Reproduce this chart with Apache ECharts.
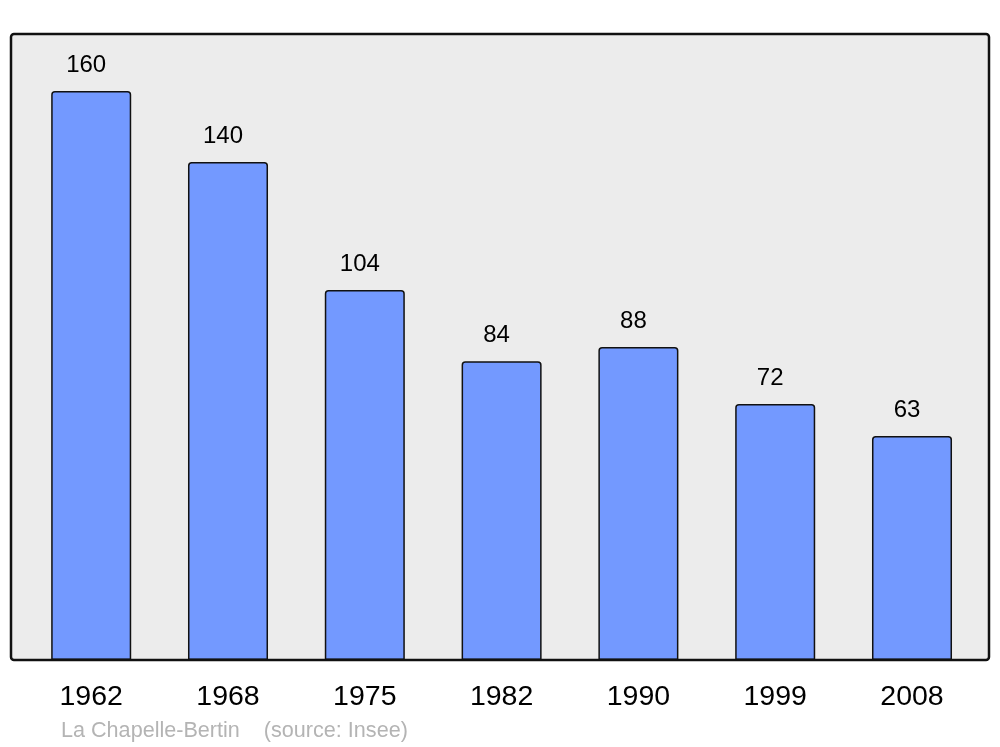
<!DOCTYPE html>
<html>
<head>
<meta charset="utf-8">
<script src="https://cdn.jsdelivr.net/npm/echarts@6/dist/echarts.min.js"></script>
<style>
html,body{margin:0;padding:0;background:#fff;}
#chart{width:1000px;height:747px;}
</style>
</head>
<body>
<div id="chart"></div>
<script>
const years = ['1962', '1968', '1975', '1982', '1990', '1999', '2008'];
const population = [160, 140, 104, 84, 88, 72, 63];
const sourceText = 'La Chapelle-Bertin    (source: Insee)';

const chart = echarts.init(document.getElementById('chart'), null, {renderer: 'canvas'});
const FONT = '"Liberation Sans", Arial, sans-serif';

chart.setOption({
  animation: false,
  backgroundColor: '#ffffff',
  title: {
    text: sourceText,
    left: 61,
    top: 720,
    padding: 0,
    textStyle: {fontFamily: FONT, fontSize: 21.6, fontWeight: 'normal', color: '#b4b4b4', lineHeight: 22}
  },
  graphic: [
    {type: 'rect', z: -10, silent: true,
     shape: {x: 11, y: 34, width: 978, height: 626, r: 3},
     style: {fill: '#ececec', stroke: null}},
    {type: 'rect', z: 100, silent: true,
     shape: {x: 11, y: 34, width: 978, height: 626, r: 3},
     style: {fill: null, stroke: '#111111', lineWidth: 2.5}}
  ],
  grid: {left: 22.8, right: 19.6, top: 34, bottom: 87, containLabel: false},
  xAxis: {
    type: 'category',
    data: years,
    boundaryGap: true,
    axisLine: {show: false},
    axisTick: {show: false},
    axisLabel: {fontFamily: FONT, fontSize: 28.5, color: '#000', margin: 23, lineHeight: 28}
  },
  yAxis: {
    type: 'value', min: 0, max: 176,
    show: false,
    splitLine: {show: false}
  },
  series: [{
    type: 'bar',
    data: population,
    barWidth: '58.5%',
    itemStyle: {color: '#7399ff', borderColor: '#111111', borderWidth: 1.5, borderRadius: [3, 3, 0, 0]},
    label: {
      show: true, position: 'top', distance: 14, offset: [-5, 0],
      fontFamily: FONT, fontSize: 24, color: '#000', lineHeight: 24
    }
  }]
});
</script>
</body>
</html>
